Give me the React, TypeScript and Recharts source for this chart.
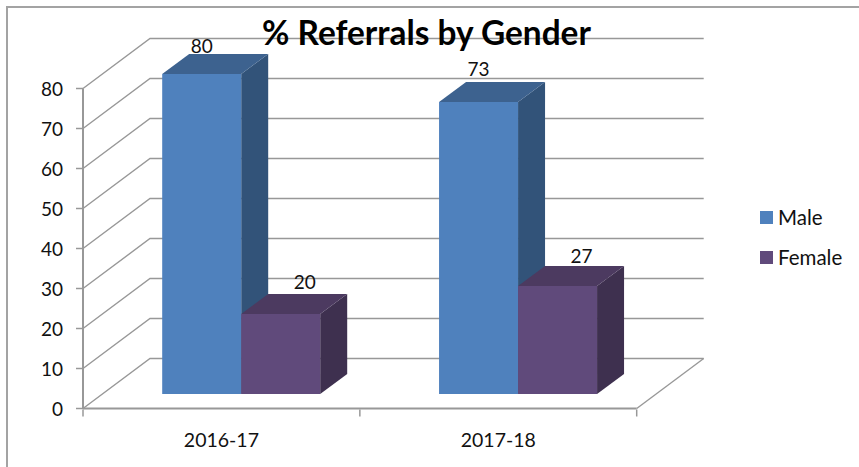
import { BarChart, Bar, XAxis, YAxis, CartesianGrid, Legend, LabelList } from "recharts";

const categories = ["2016-17", "2017-18"];
const maleValues = [80, 73];
const femaleValues = [20, 27];
const yTicks = [0, 10, 20, 30, 40, 50, 60, 70, 80];

const chartData = categories.map((period, i) => ({
  period,
  Male: maleValues[i],
  Female: femaleValues[i],
}));

const FONT = "Lato, sans-serif";
const AXIS_GREY = "#989898";

// depth of the fake 3d box: walls and bars
const WALL_DX = 67;
const WALL_DY = -50;
const BAR_SHIFT_X = 20.2;
const BAR_SHIFT_Y = -14.5;
const BAR_DX = 27;
const BAR_DY = -20;
const BAND = 276.85;

function Bar3D({ x, y, width, height, fill, topFill, sideFill }: any) {
  const l = x + BAR_SHIFT_X;
  const r = l + width;
  const t = y + BAR_SHIFT_Y;
  const b = t + height;
  return (
    <g>
      <polygon points={`${r},${t} ${r + BAR_DX},${t + BAR_DY} ${r + BAR_DX},${b + BAR_DY} ${r},${b}`} fill={sideFill} />
      <polygon points={`${l},${t} ${l + BAR_DX},${t + BAR_DY} ${r + BAR_DX},${t + BAR_DY} ${r},${t}`} fill={topFill} />
      <rect x={l} y={t} width={width} height={height} fill={fill} />
    </g>
  );
}

function WallLine({ x1, x2, y1 }: any) {
  const backY = y1 + WALL_DY;
  const isFloor = y1 > 400;
  return (
    <g stroke={AXIS_GREY} strokeWidth={1.4} fill="none">
      <polyline points={`${x1},${y1} ${x1 + WALL_DX},${backY} ${x2 + WALL_DX},${backY}`} />
      {isFloor && <line x1={x2} y1={y1} x2={x2 + WALL_DX} y2={backY} />}
    </g>
  );
}

function CategoryTick({ x, y, payload, index }: any) {
  const half = BAND / 2;
  return (
    <g>
      {index === 0 && <line x1={x - half} y1={y - 7} x2={x - half} y2={y} stroke={AXIS_GREY} strokeWidth={1.5} />}
      <line x1={x + half} y1={y - 7} x2={x + half} y2={y} stroke={AXIS_GREY} strokeWidth={1.5} />
      <text x={x} y={y + 30} textAnchor="middle" fontFamily={FONT} fontSize={19.5} fill="#111">
        {payload.value}
      </text>
    </g>
  );
}

const labelNudge: Record<string, number[][]> = {
  Male: [[0, -21], [0, -26]],
  Female: [[24, -25], [24, -23]],
};

function BarLabel({ x, y, width, value, index, series }: any) {
  const [dx, dy] = labelNudge[series][index];
  return (
    <text
      x={x + BAR_SHIFT_X + width / 2 + dx}
      y={y + BAR_SHIFT_Y + dy}
      textAnchor="middle"
      fontFamily={FONT}
      fontSize={19}
      fill="#111"
    >
      {value}
    </text>
  );
}

function LegendBox({ payload }: any) {
  return (
    <div style={{ fontFamily: FONT, fontSize: 20.5, color: "#111" }}>
      {(payload || []).map((item: any) => (
        <div key={item.value} style={{ display: "flex", alignItems: "center", height: 40 }}>
          <span style={{ width: 13, height: 13, background: item.color, marginRight: 5 }} />
          {item.value}
        </div>
      ))}
    </div>
  );
}

export default function App() {
  return (
    <div style={{ position: "absolute", left: 0, top: 0, width: 859, height: 467, background: "#fff" }}>
      <div
        style={{
          position: "absolute",
          left: 6,
          top: 6,
          right: 0,
          bottom: 0,
          borderLeft: "2px solid #a3a3a3",
          borderTop: "2px solid #a3a3a3",
        }}
      />
      <BarChart
        width={859}
        height={467}
        data={chartData}
        margin={{ top: 88.5, right: 127.3, bottom: 28.5, left: 43 }}
        barSize={79}
        barGap={0}
        style={{ position: "absolute", left: 0, top: 0 }}
      >
        <CartesianGrid vertical={false} horizontal={(p: any) => <WallLine key={p.y1} {...p} />} />
        <XAxis
          dataKey="period"
          height={30}
          tickLine={false}
          interval={0}
          axisLine={{ stroke: AXIS_GREY, strokeWidth: 2 }}
          tick={<CategoryTick />}
        />
        <YAxis
          width={40}
          domain={[0, 80]}
          ticks={yTicks}
          tickSize={7}
          tickMargin={13}
          axisLine={{ stroke: AXIS_GREY, strokeWidth: 2 }}
          tickLine={{ stroke: AXIS_GREY, strokeWidth: 1.5 }}
          tick={{ fontFamily: FONT, fontSize: 19, fill: "#111", dy: 1 }}
        />
        <Legend
          layout="vertical"
          align="right"
          verticalAlign="top"
          itemSorter={null}
          content={<LegendBox />}
          wrapperStyle={{ position: "absolute", left: 760, top: 197, width: 95 }}
        />
        <Bar
          dataKey="Male"
          fill="#4f81bd"
          isAnimationActive={false}
          shape={<Bar3D topFill="#3d628f" sideFill="#325379" />}
        >
          <LabelList dataKey="Male" content={<BarLabel series="Male" />} />
        </Bar>
        <Bar
          dataKey="Female"
          fill="#604a7b"
          isAnimationActive={false}
          shape={<Bar3D topFill="#4c3a60" sideFill="#3e304f" />}
        >
          <LabelList dataKey="Female" content={<BarLabel series="Female" />} />
        </Bar>
        <text x={426.5} y={45} textAnchor="middle" fontFamily={FONT} fontSize={33.4} fontWeight={700} fill="#000">
          % Referrals by Gender
        </text>
      </BarChart>
    </div>
  );
}
